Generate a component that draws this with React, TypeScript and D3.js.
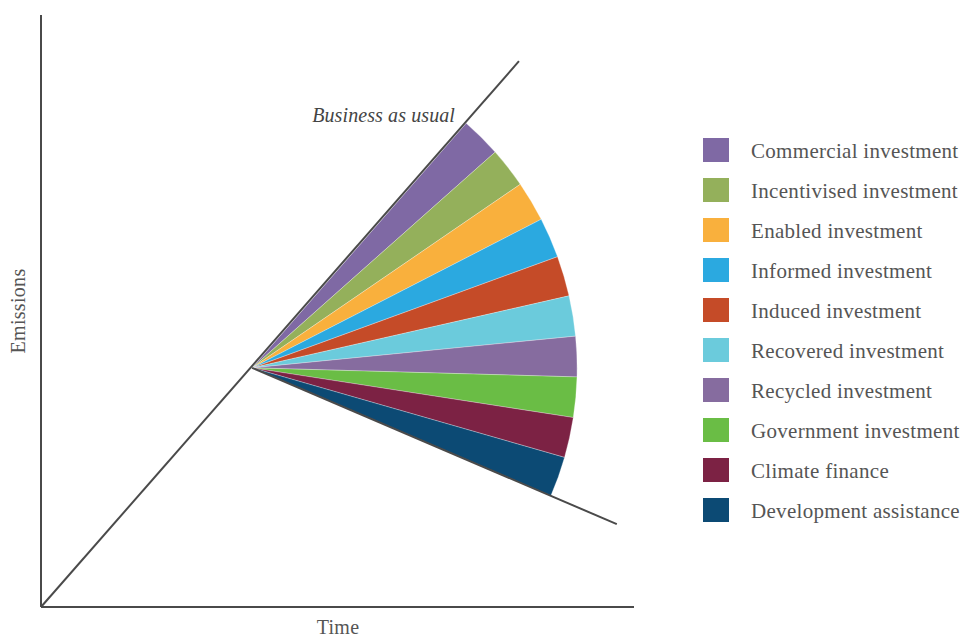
import React from "react";
import * as d3 from "d3";

const categories = [
  "Commercial investment",
  "Incentivised investment",
  "Enabled investment",
  "Informed investment",
  "Induced investment",
  "Recovered investment",
  "Recycled investment",
  "Government investment",
  "Climate finance",
  "Development assistance",
];
const shares = [1, 1, 1, 1, 1, 1, 1, 1, 1, 1];
const colors = [
  "#7f69a4",
  "#94b05b",
  "#f9b03d",
  "#2ba9e0",
  "#c54b28",
  "#6bcbdc",
  "#866c9f",
  "#6abd45",
  "#7c2244",
  "#0c4a74",
];
// schematic time/emissions points (0..100 scale)
const bauStart = { t: 0, e: 0 };
const bauEnd = { t: 80.6, e: 92.2 };
const pivot = { t: 35.6, e: 40.4 };
const lowEnd = { t: 97.1, e: 14.0 };

const W = 962;
const H = 639;

export default function App() {
  const x = d3.scaleLinear().domain([0, 100]).range([41, 634]);
  const y = d3.scaleLinear().domain([0, 100]).range([607, 15]);

  const px = x(pivot.t);
  const py = y(pivot.e);
  const angTop = Math.atan2(x(bauEnd.t) - x(bauStart.t), -(y(bauEnd.e) - y(bauStart.e)));
  const angLow = Math.atan2(x(lowEnd.t) - px, -(y(lowEnd.e) - py));
  const pie = d3
    .pie<number>()
    .sort(null)
    .value((d) => d)
    .startAngle(angTop)
    .endAngle(angLow);
  const arcs = pie(shares);
  const arc = d3.arc<d3.PieArcDatum<number>>().innerRadius(0).outerRadius(325);

  const line = d3.line<{ t: number; e: number }>().x((d) => x(d.t)).y((d) => y(d.e));
  const lineColor = "#4a4a4a";
  const textColor = "#555555";
  const font = "Liberation Serif, Times New Roman, serif";

  return (
    <svg width={W} height={H} style={{ position: "absolute", left: 0, top: 0, background: "#fff" }}>
      <g transform={`translate(${px},${py})`}>
        {arcs.map((a, i) => (
          <path key={i} d={arc(a) || ""} fill={colors[i]} stroke="#ffffff" strokeWidth={0.4} strokeOpacity={0.7} />
        ))}
      </g>
      <path d={line([bauStart, bauEnd]) || ""} stroke={lineColor} strokeWidth={2} fill="none" />
      <path d={line([pivot, lowEnd]) || ""} stroke={lineColor} strokeWidth={2} fill="none" />
      <line x1={x(0)} y1={y(100)} x2={x(0)} y2={y(0)} stroke={lineColor} strokeWidth={2} />
      <line x1={x(0)} y1={y(0)} x2={x(100)} y2={y(0)} stroke={lineColor} strokeWidth={2} />
      <text
        x={455}
        y={121.5}
        textAnchor="end"
        fontFamily={font}
        fontStyle="italic"
        fontSize={20}
        letterSpacing={0.1}
        fill="#444"
      >
        Business as usual
      </text>
      <text
        transform={`translate(25,${y(50)}) rotate(-90)`}
        textAnchor="middle"
        fontFamily={font}
        fontSize={20}
        letterSpacing={0.3}
        fill={textColor}
      >
        Emissions
      </text>
      <text x={338} y={634} textAnchor="middle" fontFamily={font} fontSize={20} letterSpacing={0.3} fill={textColor}>
        Time
      </text>
      {categories.map((c, i) => (
        <g key={c} transform={`translate(703,${138 + i * 40})`}>
          <rect width={26} height={24} fill={colors[i]} />
          <text x={48} y={20} fontFamily={font} fontSize={21} letterSpacing={0.3} fill={textColor}>
            {c}
          </text>
        </g>
      ))}
    </svg>
  );
}
